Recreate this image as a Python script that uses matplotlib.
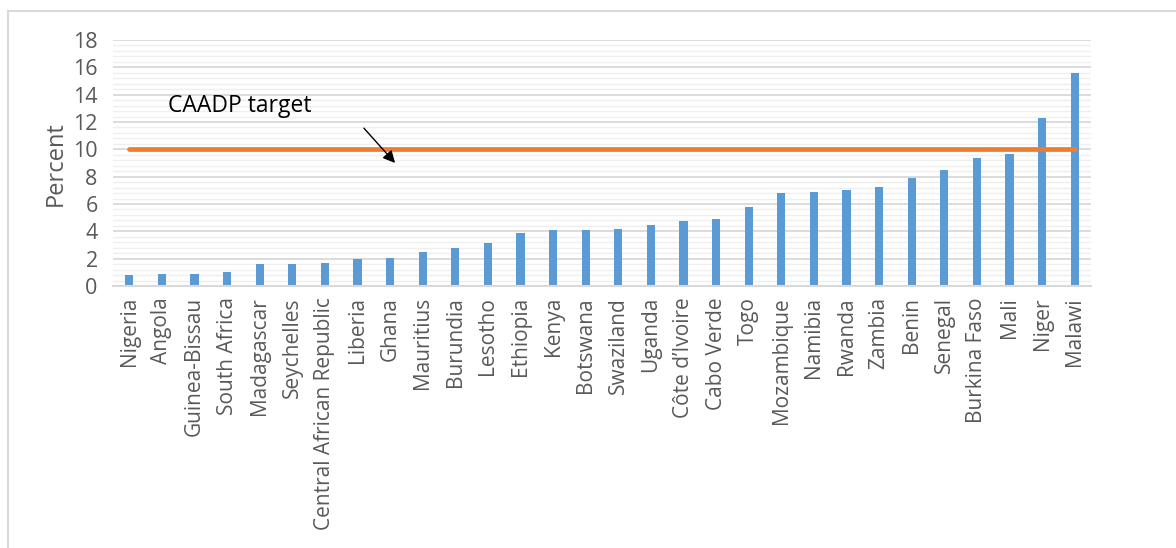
import matplotlib
matplotlib.use("Agg")
import matplotlib.pyplot as plt
from matplotlib.patches import Rectangle
from matplotlib.ticker import MultipleLocator
import numpy as np

countries = ["Nigeria", "Angola", "Guinea-Bissau", "South Africa", "Madagascar", "Seychelles",
             "Central African Republic", "Liberia", "Ghana", "Mauritius", "Burundia", "Lesotho",
             "Ethiopia", "Kenya", "Botswana", "Swaziland", "Uganda", "Côte d\u2019Ivoire", "Cabo Verde",
             "Togo", "Mozambique", "Namibia", "Rwanda", "Zambia", "Benin", "Senegal",
             "Burkina Faso", "Mali", "Niger", "Malawi"]
percent = [0.78, 0.85, 0.88, 1.03, 1.59, 1.6, 1.69, 1.98, 2.05, 2.47, 2.78, 3.15,
           3.88, 4.07, 4.1, 4.2, 4.47, 4.76, 4.88, 5.81, 6.81, 6.88, 7.05, 7.22,
           7.93, 8.46, 9.34, 9.66, 12.27, 15.6]
target = [10] * len(countries)
yticks = [0, 2, 4, 6, 8, 10, 12, 14, 16, 18]

plt.rcParams['font.family'] = ['Open Sans', 'DejaVu Sans']

fig = plt.figure(figsize=(11.76, 5.48), dpi=100)
fig.patches.append(Rectangle((8/1176, -0.1), 1.2, 1 - 11/548 + 0.1, transform=fig.transFigure,
                             fill=False, edgecolor='#D9D9D9', linewidth=1.5))
ax = fig.add_axes([113/1176, 1 - 286/548, (1091-113)/1176, (286-40)/548])

x = np.arange(len(countries))
ax.bar(x, percent, width=0.25, color='#5B9BD5', zorder=3)
ax.plot(x, target, color='#ED7D31', linewidth=3.4, solid_capstyle='round', zorder=4)

ax.set_xlim(-0.5, len(countries) - 0.5)
ax.set_ylim(0, 18)
ax.set_yticks(yticks)
ax.set_yticklabels([str(v) for v in yticks])
ax.yaxis.set_minor_locator(MultipleLocator(0.4))
ax.grid(axis='y', which='major', color='#D9D9D9', linewidth=1.3, zorder=0)
ax.grid(axis='y', which='minor', color='#EFEFEF', linewidth=1.0, zorder=0)
ax.set_xticks(x)
ax.set_xticklabels(countries, rotation=90, fontsize=15, color='#595959')
ax.tick_params(axis='both', which='both', length=0)
ax.tick_params(axis='y', labelsize=15.5, labelcolor='#595959', pad=11)
ax.tick_params(axis='x', pad=8)
for s in ['top', 'right', 'left']:
    ax.spines[s].set_visible(False)
ax.spines['bottom'].set_color('#D9D9D9')
ax.spines['bottom'].set_linewidth(1.5)
ax.spines['bottom'].set_zorder(5)
ax.set_ylabel('Percent', fontsize=17, color='#595959')
ax.yaxis.set_label_coords(-0.046, 0.496)

ax.text(1.19, 12.7, 'CAADP target', fontsize=16.5, color='black', va='baseline', ha='left')
ax.annotate('', xy=(8.21, 8.85), xytext=(7.14, 11.7),
            arrowprops=dict(arrowstyle='-|>', color='black', lw=1.0, mutation_scale=18), zorder=6)

fig.savefig('out.png', dpi=100, facecolor='white')
